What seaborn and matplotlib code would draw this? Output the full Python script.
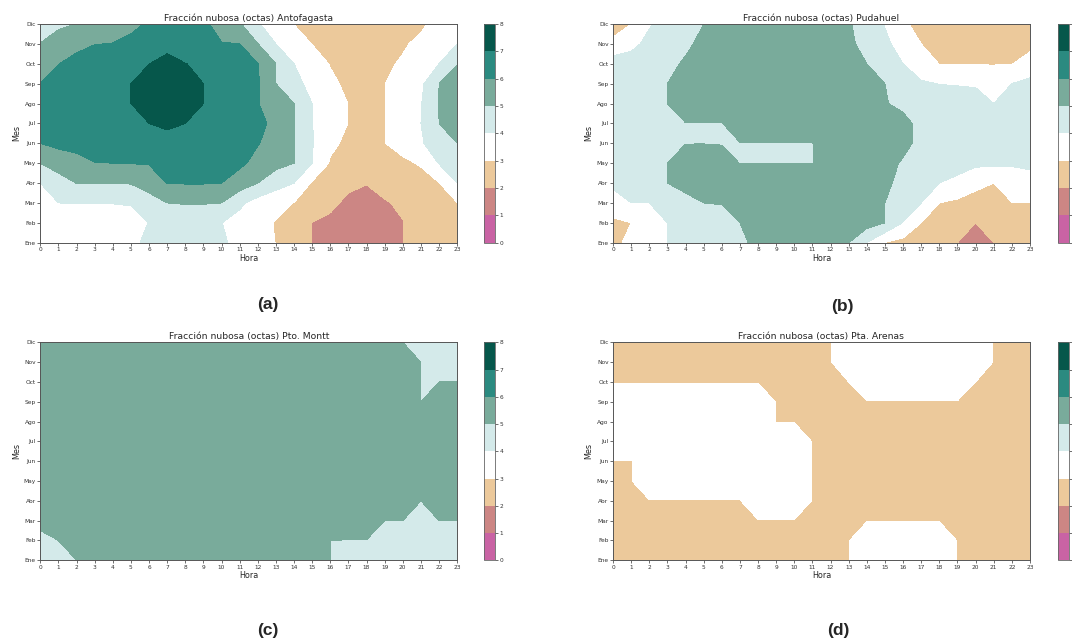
import numpy as np
import matplotlib
matplotlib.use("Agg")
import matplotlib.pyplot as plt
import seaborn as sns
from matplotlib.colors import ListedColormap

# ---------------------------------------------------------------------------
# Data: mean cloud cover (octas) per month (rows, Ene..Dic) and hour (0..23)
# ---------------------------------------------------------------------------
hours = list(range(24))
months = ["Ene", "Feb", "Mar", "Abr", "May", "Jun", "Jul", "Ago", "Sep", "Oct", "Nov", "Dic"]
levels = list(range(9))
band_colors = ["#c963a4", "#cc8684", "#ecc99b", "#ffffff",
               "#d4eaea", "#79ab9b", "#2b8a80", "#06574b"]

stations = ["Antofagasta", "Pudahuel", "Pto. Montt", "Pta. Arenas"]
panel_tags = ["(a)", "(b)", "(c)", "(d)"]

antofagasta = [
    [3.5, 3.5, 3.5, 3.5, 3.5, 3.8, 4.2, 4.4, 4.4, 4.3, 4.1, 3.8, 3.4, 2.98, 2.5, 1.98, 1.6, 1.6, 1.6, 1.6, 1.98, 2.4, 2.5, 2.6],
    [3.5, 3.5, 3.5, 3.5, 3.6, 3.7, 4.02, 4.3, 4.4, 4.3, 4.02, 3.6, 3.25, 2.95, 2.5, 1.98, 1.8, 1.6, 1.5, 1.6, 1.98, 2.3, 2.5, 2.6],
    [3.3, 4.0, 4.02, 4.02, 4.02, 4.05, 4.5, 5.0, 5.05, 5.05, 5.0, 4.2, 3.6, 3.3, 2.98, 2.6, 2.2, 1.8, 1.8, 1.95, 2.1, 2.4, 2.7, 2.98],
    [4.0, 4.5, 5.02, 5.02, 5.02, 5.05, 5.5, 6.02, 6.05, 6.05, 6.0, 5.5, 5.0, 4.4, 4.0, 2.9, 2.5, 2.2, 2.02, 2.2, 2.4, 2.6, 2.98, 4.0],
    [5.0, 5.5, 5.7, 5.98, 6.0, 6.02, 6.05, 6.3, 6.4, 6.4, 6.3, 6.2, 5.7, 5.3, 5.0, 4.0, 2.9, 2.4, 2.3, 2.5, 2.8, 3.1, 4.05, 4.5],
    [6.0, 6.2, 6.3, 6.4, 6.5, 6.5, 6.6, 6.6, 6.6, 6.5, 6.4, 6.3, 6.05, 5.6, 5.05, 4.05, 3.2, 2.8, 2.5, 2.98, 3.4, 3.9, 4.5, 5.0],
    [6.3, 6.5, 6.6, 6.7, 6.8, 6.9, 7.0, 7.2, 7.0, 6.9, 6.8, 6.6, 6.3, 5.7, 5.02, 4.02, 3.5, 2.98, 2.5, 2.98, 3.5, 4.0, 5.0, 5.3],
    [6.2, 6.4, 6.6, 6.7, 6.8, 7.0, 7.4, 7.6, 7.4, 7.0, 6.8, 6.5, 6.05, 5.3, 5.0, 4.0, 3.5, 2.98, 2.5, 2.98, 3.5, 3.95, 5.02, 5.5],
    [6.0, 6.4, 6.6, 6.7, 6.8, 7.0, 7.5, 7.8, 7.5, 7.0, 6.8, 6.5, 6.1, 5.0, 4.4, 3.6, 3.2, 2.8, 2.5, 2.98, 3.5, 3.8, 5.0, 5.5],
    [5.7, 5.98, 6.3, 6.5, 6.6, 6.7, 6.98, 7.5, 7.02, 6.8, 6.6, 6.3, 6.02, 5.0, 4.0, 3.45, 2.95, 2.5, 2.5, 2.85, 3.1, 3.6, 4.0, 4.95],
    [5.02, 5.5, 5.75, 5.98, 6.02, 6.1, 6.4, 6.5, 6.4, 6.3, 6.02, 6.0, 5.02, 4.0, 3.5, 2.98, 2.6, 2.6, 2.6, 2.6, 2.9, 3.2, 3.6, 4.0],
    [4.5, 4.8, 5.02, 5.4, 5.6, 5.9, 6.05, 6.3, 6.3, 6.1, 5.8, 5.1, 4.1, 3.4, 2.98, 2.6, 2.6, 2.6, 2.6, 2.6, 2.6, 2.85, 3.3, 3.5],
]

pudahuel = [
    [2.8, 3.2, 3.6, 4.0, 4.3, 4.5, 4.7, 4.9, 5.12, 5.3, 5.3, 5.3, 5.3, 5.0, 3.98, 2.98, 2.7, 2.5, 2.2, 2.0, 1.6, 2.0, 2.3, 2.5],
    [2.9, 3.0, 3.5, 4.0, 4.5, 4.7, 4.8, 5.0, 5.4, 5.4, 5.4, 5.4, 5.4, 5.4, 5.4, 5.0, 3.95, 3.0, 2.7, 2.4, 2.0, 2.4, 2.6, 2.7],
    [3.3, 4.0, 4.0, 4.5, 4.8, 5.0, 5.02, 5.3, 5.5, 5.5, 5.5, 5.5, 5.5, 5.5, 5.5, 5.0, 4.5, 4.0, 3.0, 2.8, 2.7, 2.7, 2.98, 2.98],
    [4.3, 4.5, 4.7, 5.0, 5.2, 5.4, 5.6, 5.6, 5.6, 5.6, 5.6, 5.6, 5.6, 5.6, 5.6, 5.2, 4.7, 4.4, 4.0, 3.8, 3.2, 3.0, 3.5, 3.8],
    [4.5, 4.6, 4.7, 5.0, 5.5, 5.6, 5.5, 4.98, 4.98, 4.98, 4.98, 4.98, 5.5, 5.6, 5.5, 5.3, 4.9, 4.6, 4.5, 4.3, 4.2, 4.2, 4.1, 4.1],
    [4.6, 4.6, 4.7, 4.8, 4.98, 4.98, 4.95, 4.98, 4.98, 4.98, 4.98, 4.98, 5.5, 5.6, 5.6, 5.5, 5.25, 4.75, 4.6, 4.6, 4.6, 4.6, 4.6, 4.6],
    [4.6, 4.6, 4.7, 4.8, 4.98, 4.98, 4.98, 5.4, 5.6, 5.6, 5.6, 5.6, 5.6, 5.6, 5.6, 5.5, 5.25, 4.75, 4.6, 4.6, 4.6, 4.6, 4.6, 4.6],
    [4.6, 4.6, 4.8, 5.0, 5.5, 5.6, 5.6, 5.6, 5.6, 5.6, 5.6, 5.6, 5.6, 5.6, 5.6, 5.05, 4.8, 4.6, 4.5, 4.4, 4.2, 4.0, 4.3, 4.6],
    [4.5, 4.6, 4.8, 5.0, 5.3, 5.5, 5.5, 5.5, 5.5, 5.5, 5.5, 5.5, 5.5, 5.4, 5.2, 5.0, 4.5, 4.1, 3.98, 3.95, 3.95, 3.7, 4.0, 4.3],
    [4.6, 4.5, 4.7, 4.8, 5.1, 5.4, 5.5, 5.5, 5.5, 5.5, 5.5, 5.5, 5.5, 5.3, 5.0, 4.5, 4.0, 3.5, 2.98, 2.95, 2.95, 2.95, 2.98, 3.3],
    [3.1, 3.7, 4.3, 4.6, 4.85, 5.2, 5.4, 5.4, 5.4, 5.4, 5.4, 5.4, 5.4, 5.15, 4.75, 4.2, 3.6, 3.0, 2.6, 2.5, 2.5, 2.5, 2.5, 2.8],
    [2.8, 3.0, 3.9, 4.4, 4.7, 5.0, 5.3, 5.4, 5.4, 5.4, 5.4, 5.4, 5.4, 5.1, 4.5, 3.95, 3.2, 2.6, 2.5, 2.5, 2.5, 2.5, 2.5, 2.6],
]

pto_montt = [
    [4.5, 4.8, 5.0, 5.4, 5.5, 5.5, 5.5, 5.5, 5.5, 5.5, 5.5, 5.5, 5.5, 5.5, 5.4, 5.4, 5.0, 4.6, 4.6, 4.6, 4.6, 4.6, 4.6, 4.6],
    [4.7, 5.0, 5.4, 5.5, 5.5, 5.6, 5.6, 5.6, 5.6, 5.6, 5.6, 5.6, 5.6, 5.5, 5.5, 5.5, 5.0, 4.98, 4.98, 4.7, 4.7, 4.6, 4.7, 4.7],
    [5.3, 5.5, 5.6, 5.6, 5.6, 5.6, 5.6, 5.6, 5.6, 5.6, 5.6, 5.6, 5.6, 5.6, 5.6, 5.6, 5.5, 5.5, 5.5, 5.0, 5.0, 4.8, 5.0, 5.0],
    [5.5, 5.6, 5.6, 5.7, 5.7, 5.7, 5.7, 5.7, 5.7, 5.7, 5.7, 5.7, 5.7, 5.7, 5.7, 5.6, 5.6, 5.6, 5.5, 5.5, 5.5, 5.0, 5.5, 5.5],
    [5.6, 5.6, 5.7, 5.7, 5.7, 5.7, 5.7, 5.7, 5.7, 5.7, 5.7, 5.7, 5.7, 5.7, 5.7, 5.7, 5.6, 5.6, 5.6, 5.6, 5.6, 5.5, 5.5, 5.5],
    [5.6, 5.6, 5.7, 5.7, 5.8, 5.8, 5.8, 5.8, 5.8, 5.8, 5.8, 5.8, 5.8, 5.8, 5.7, 5.7, 5.7, 5.6, 5.6, 5.6, 5.6, 5.5, 5.5, 5.5],
    [5.6, 5.7, 5.7, 5.8, 5.8, 5.8, 5.8, 5.8, 5.8, 5.8, 5.8, 5.8, 5.8, 5.8, 5.8, 5.7, 5.7, 5.7, 5.6, 5.6, 5.6, 5.5, 5.5, 5.5],
    [5.6, 5.7, 5.7, 5.8, 5.8, 5.8, 5.8, 5.8, 5.8, 5.8, 5.8, 5.8, 5.8, 5.8, 5.8, 5.7, 5.7, 5.6, 5.6, 5.6, 5.5, 5.5, 5.5, 5.5],
    [5.6, 5.6, 5.7, 5.7, 5.7, 5.7, 5.7, 5.7, 5.7, 5.7, 5.7, 5.7, 5.7, 5.7, 5.7, 5.6, 5.6, 5.6, 5.5, 5.5, 5.5, 5.0, 5.5, 5.5],
    [5.5, 5.6, 5.6, 5.6, 5.6, 5.6, 5.6, 5.6, 5.6, 5.6, 5.6, 5.6, 5.6, 5.6, 5.6, 5.6, 5.5, 5.5, 5.5, 5.5, 5.5, 4.99, 5.0, 5.0],
    [5.5, 5.5, 5.5, 5.6, 5.6, 5.6, 5.6, 5.6, 5.6, 5.6, 5.6, 5.6, 5.6, 5.6, 5.6, 5.5, 5.5, 5.5, 5.5, 5.5, 5.5, 4.99, 4.7, 4.7],
    [5.4, 5.4, 5.5, 5.5, 5.5, 5.5, 5.5, 5.5, 5.5, 5.5, 5.5, 5.5, 5.5, 5.5, 5.5, 5.5, 5.5, 5.5, 5.5, 5.5, 5.0, 4.7, 4.6, 4.6],
]

pta_arenas = [
    [2.5, 2.5, 2.5, 2.5, 2.5, 2.5, 2.5, 2.5, 2.5, 2.5, 2.5, 2.5, 2.5, 2.97, 3.5, 3.5, 3.5, 3.5, 3.5, 2.97, 2.5, 2.5, 2.5, 2.5],
    [2.5, 2.5, 2.5, 2.5, 2.5, 2.5, 2.5, 2.5, 2.5, 2.5, 2.5, 2.5, 2.5, 2.97, 3.5, 3.5, 3.5, 3.5, 3.5, 2.97, 2.5, 2.5, 2.5, 2.5],
    [2.5, 2.5, 2.5, 2.5, 2.5, 2.5, 2.5, 2.5, 2.97, 2.97, 2.97, 2.5, 2.5, 2.5, 2.97, 2.97, 2.97, 2.97, 2.97, 2.5, 2.5, 2.5, 2.5, 2.5],
    [2.5, 2.5, 2.97, 2.97, 2.97, 2.97, 2.97, 2.97, 3.5, 3.5, 3.5, 2.97, 2.5, 2.5, 2.5, 2.5, 2.5, 2.5, 2.5, 2.5, 2.5, 2.5, 2.5, 2.5],
    [2.5, 2.97, 3.5, 3.5, 3.5, 3.5, 3.5, 3.5, 3.5, 3.5, 3.5, 2.97, 2.5, 2.5, 2.5, 2.5, 2.5, 2.5, 2.5, 2.5, 2.5, 2.5, 2.5, 2.5],
    [2.97, 2.97, 3.5, 3.5, 3.5, 3.5, 3.5, 3.5, 3.5, 3.5, 3.5, 2.97, 2.5, 2.5, 2.5, 2.5, 2.5, 2.5, 2.5, 2.5, 2.5, 2.5, 2.5, 2.5],
    [3.5, 3.5, 3.5, 3.5, 3.5, 3.5, 3.5, 3.5, 3.5, 3.5, 3.5, 2.97, 2.5, 2.5, 2.5, 2.5, 2.5, 2.5, 2.5, 2.5, 2.5, 2.5, 2.5, 2.5],
    [3.5, 3.5, 3.5, 3.5, 3.5, 3.5, 3.5, 3.5, 3.5, 2.97, 2.97, 2.5, 2.5, 2.5, 2.5, 2.5, 2.5, 2.5, 2.5, 2.5, 2.5, 2.5, 2.5, 2.5],
    [3.5, 3.5, 3.5, 3.5, 3.5, 3.5, 3.5, 3.5, 3.5, 2.97, 2.5, 2.5, 2.5, 2.5, 2.97, 2.97, 2.97, 2.97, 2.97, 2.97, 2.5, 2.5, 2.5, 2.5],
    [2.97, 2.97, 2.97, 2.97, 2.97, 2.97, 2.97, 2.97, 2.97, 2.5, 2.5, 2.5, 2.5, 3.0, 3.5, 3.5, 3.5, 3.5, 3.5, 3.5, 3.0, 2.5, 2.5, 2.5],
    [2.5, 2.5, 2.5, 2.5, 2.5, 2.5, 2.5, 2.5, 2.5, 2.5, 2.5, 2.5, 2.97, 3.5, 3.5, 3.5, 3.5, 3.5, 3.5, 3.5, 3.5, 2.97, 2.5, 2.5],
    [2.5, 2.5, 2.5, 2.5, 2.5, 2.5, 2.5, 2.5, 2.5, 2.5, 2.5, 2.5, 2.97, 3.5, 3.5, 3.5, 3.5, 3.5, 3.5, 3.5, 3.5, 2.97, 2.5, 2.5],
]

grids = [antofagasta, pudahuel, pto_montt, pta_arenas]

# ---------------------------------------------------------------------------
# Style
# ---------------------------------------------------------------------------
sns.set_style("ticks")
plt.rcParams["font.family"] = ["DejaVu Sans"]
plt.rcParams["axes.edgecolor"] = "#555555"
plt.rcParams["axes.linewidth"] = 0.7
plt.rcParams["xtick.color"] = "#333333"
plt.rcParams["ytick.color"] = "#333333"

cmap = ListedColormap(sns.color_palette(band_colors))

W, H = 1072, 640
fig = plt.figure(figsize=(W / 100, H / 100), dpi=100)


def frac_rect(x0, y0, x1, y1):
    """Pixel box (top-left origin) -> figure fraction rect."""
    return [x0 / W, 1 - y1 / H, (x1 - x0) / W, (y1 - y0) / H]


panel_boxes = [
    (40.3, 24.0, 457.2, 242.7),
    (613.0, 24.0, 1030.0, 242.7),
    (40.3, 342.3, 457.2, 560.3),
    (613.0, 342.3, 1030.0, 560.3),
]
cbar_x = [(483.5, 494.5), (1057.5, 1068.5), (483.5, 494.5), (1057.5, 1068.5)]
tag_pos = [(268, 305), (842, 307), (268, 630), (838, 630)]
# right-hand column colorbars sit against the figure edge: ticks only
cbar_labels_on = [True, False, True, False]

for i, (grid, name) in enumerate(zip(grids, stations)):
    x0, y0, x1, y1 = panel_boxes[i]
    ax = fig.add_axes(frac_rect(x0, y0, x1, y1))
    cax = fig.add_axes(frac_rect(cbar_x[i][0], y0, cbar_x[i][1], y1))

    cs = ax.contourf(hours, np.arange(len(months)), np.array(grid),
                     levels=levels, cmap=cmap, vmin=0, vmax=8)

    ax.set_xticks(hours)
    ax.set_xticklabels([str(h) for h in hours])
    ax.set_yticks(np.arange(len(months)))
    ax.set_yticklabels(months)
    ax.tick_params(axis="both", labelsize=4.2, length=2, width=0.5, pad=1.2)
    for sp in ax.spines.values():
        sp.set_visible(True)
    ax.set_title(f"Fracción nubosa (octas) {name}", fontsize=6.7, pad=2.5)
    ax.set_xlabel("Hora", fontsize=5.8, labelpad=1)
    ax.set_ylabel("Mes", fontsize=5.8, labelpad=2)

    cb = fig.colorbar(cs, cax=cax, ticks=levels)
    cb.ax.tick_params(labelsize=4.2, length=2, width=0.5, pad=1.5,
                      labelright=cbar_labels_on[i])
    cb.outline.set_edgecolor("#666666")
    cb.outline.set_linewidth(0.6)

    tx, ty = tag_pos[i]
    fig.text(tx / W, 1 - ty / H, panel_tags[i], ha="center", va="center",
             fontsize=12.5, fontweight="bold", family=["Liberation Sans", "DejaVu Sans"])

fig.savefig("out.png", dpi=100, facecolor="white")
